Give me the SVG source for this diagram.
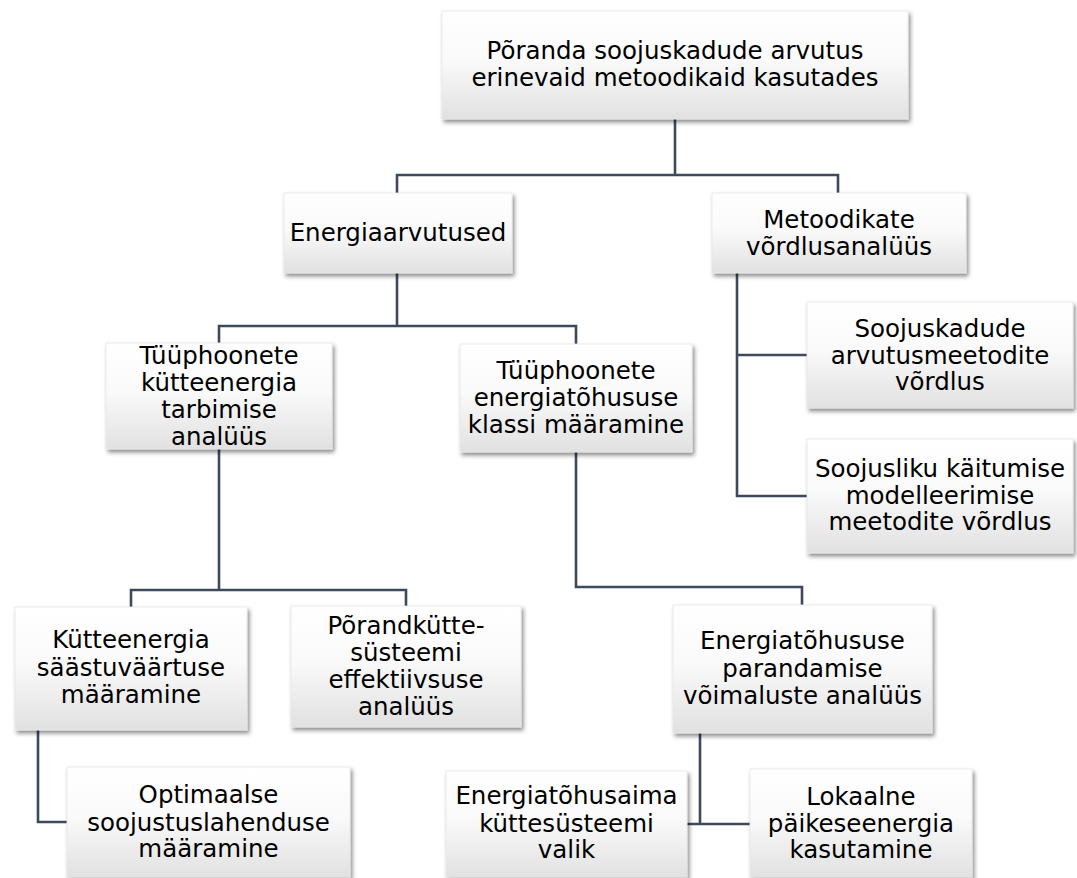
<svg xmlns="http://www.w3.org/2000/svg" width="1077" height="878" viewBox="0 0 1077 878">
  <defs>
    <linearGradient id="boxGrad" x1="0" y1="0" x2="0" y2="1">
      <stop offset="0" stop-color="#ffffff"/>
      <stop offset="0.45" stop-color="#fafafa"/>
      <stop offset="1" stop-color="#e1e1e1"/>
    </linearGradient>
    <filter id="shadow" x="-10%" y="-10%" width="125%" height="130%">
      <feDropShadow dx="2" dy="3" stdDeviation="2" flood-color="#000000" flood-opacity="0.45"/>
    </filter>
    <style>
      .box { fill: url(#boxGrad); stroke: #e6e6e6; stroke-width: 0.8; filter: url(#shadow); }
      .lbl { font-family: "DejaVu Sans", Verdana, sans-serif; font-size: 24.5px; fill: #000000; text-anchor: middle; }
      .conn { fill: none; stroke: #3c4a5c; stroke-width: 2.6; stroke-linejoin: miter; }
    </style>
  </defs>
  <rect width="1077" height="878" fill="#ffffff"/>

  <g id="connectors">
    <path class="conn" d="M675 119 V175 M397 193 V175 H838 V193"/>
    <path class="conn" d="M397 273 V326 M219 343 V326 H576 V344"/>
    <path class="conn" d="M737 273 V496 H807 M737 355 H807"/>
    <path class="conn" d="M219 449 V590 M131 607 V590 H406 V606"/>
    <path class="conn" d="M38 730 V822 H67"/>
    <path class="conn" d="M576 452 V587 H802 V605"/>
    <path class="conn" d="M700 733 V824 M687 824 H750"/>
  </g>

  <g id="node-root">
    <rect class="box" x="442" y="11" width="466" height="108"/>
    <text class="lbl" x="675" y="59">Põranda soojuskadude arvutus</text>
    <text class="lbl" x="675" y="86">erinevaid metoodikaid kasutades</text>
  </g>

  <g id="node-energiaarvutused">
    <rect class="box" x="284" y="193" width="228" height="80"/>
    <text class="lbl" x="398" y="241">Energiaarvutused</text>
  </g>

  <g id="node-metoodikate">
    <rect class="box" x="712" y="193" width="254" height="80"/>
    <text class="lbl" x="839" y="228">Metoodikate</text>
    <text class="lbl" x="839" y="255">võrdlusanalüüs</text>
  </g>

  <g id="node-tuup-kutte">
    <rect class="box" x="106" y="343" width="226" height="106"/>
    <text class="lbl" x="219" y="364">Tüüphoonete</text>
    <text class="lbl" x="219" y="391">kütteenergia</text>
    <text class="lbl" x="219" y="418">tarbimise</text>
    <text class="lbl" x="219" y="445">analüüs</text>
  </g>

  <g id="node-tuup-klass">
    <rect class="box" x="460" y="344" width="232" height="108"/>
    <text class="lbl" x="576" y="379">Tüüphoonete</text>
    <text class="lbl" x="576" y="406">energiatõhususe</text>
    <text class="lbl" x="576" y="433">klassi määramine</text>
  </g>

  <g id="node-soojuskadude">
    <rect class="box" x="807" y="302" width="266" height="106"/>
    <text class="lbl" x="940" y="337">Soojuskadude</text>
    <text class="lbl" x="940" y="364">arvutusmeetodite</text>
    <text class="lbl" x="940" y="390">võrdlus</text>
  </g>

  <g id="node-soojusliku">
    <rect class="box" x="807" y="439" width="266" height="114"/>
    <text class="lbl" x="940" y="477">Soojusliku käitumise</text>
    <text class="lbl" x="940" y="504">modelleerimise</text>
    <text class="lbl" x="940" y="530">meetodite võrdlus</text>
  </g>

  <g id="node-kutteenergia">
    <rect class="box" x="15" y="607" width="232" height="123"/>
    <text class="lbl" x="131" y="648">Kütteenergia</text>
    <text class="lbl" x="131" y="676">säästuväärtuse</text>
    <text class="lbl" x="131" y="703">määramine</text>
  </g>

  <g id="node-porandkutte">
    <rect class="box" x="291" y="606" width="230" height="121"/>
    <text class="lbl" x="406" y="634">Põrandkütte-</text>
    <text class="lbl" x="406" y="661">süsteemi</text>
    <text class="lbl" x="406" y="688">effektiivsuse</text>
    <text class="lbl" x="406" y="715">analüüs</text>
  </g>

  <g id="node-optimaalse">
    <rect class="box" x="67" y="767" width="283" height="110"/>
    <text class="lbl" x="208.5" y="803">Optimaalse</text>
    <text class="lbl" x="208.5" y="831">soojustuslahenduse</text>
    <text class="lbl" x="208.5" y="857">määramine</text>
  </g>

  <g id="node-parandamise">
    <rect class="box" x="673" y="605" width="259" height="128"/>
    <text class="lbl" x="802.5" y="649">Energiatõhususe</text>
    <text class="lbl" x="802.5" y="677">parandamise</text>
    <text class="lbl" x="802.5" y="704">võimaluste analüüs</text>
  </g>

  <g id="node-kuttesusteemi">
    <rect class="box" x="446" y="771" width="241" height="106"/>
    <text class="lbl" x="566.5" y="804">Energiatõhusaima</text>
    <text class="lbl" x="566.5" y="832">küttesüsteemi</text>
    <text class="lbl" x="566.5" y="858">valik</text>
  </g>

  <g id="node-paikeseenergia">
    <rect class="box" x="750" y="769" width="222" height="108"/>
    <text class="lbl" x="861" y="805">Lokaalne</text>
    <text class="lbl" x="861" y="832">päikeseenergia</text>
    <text class="lbl" x="861" y="858">kasutamine</text>
  </g>
</svg>
